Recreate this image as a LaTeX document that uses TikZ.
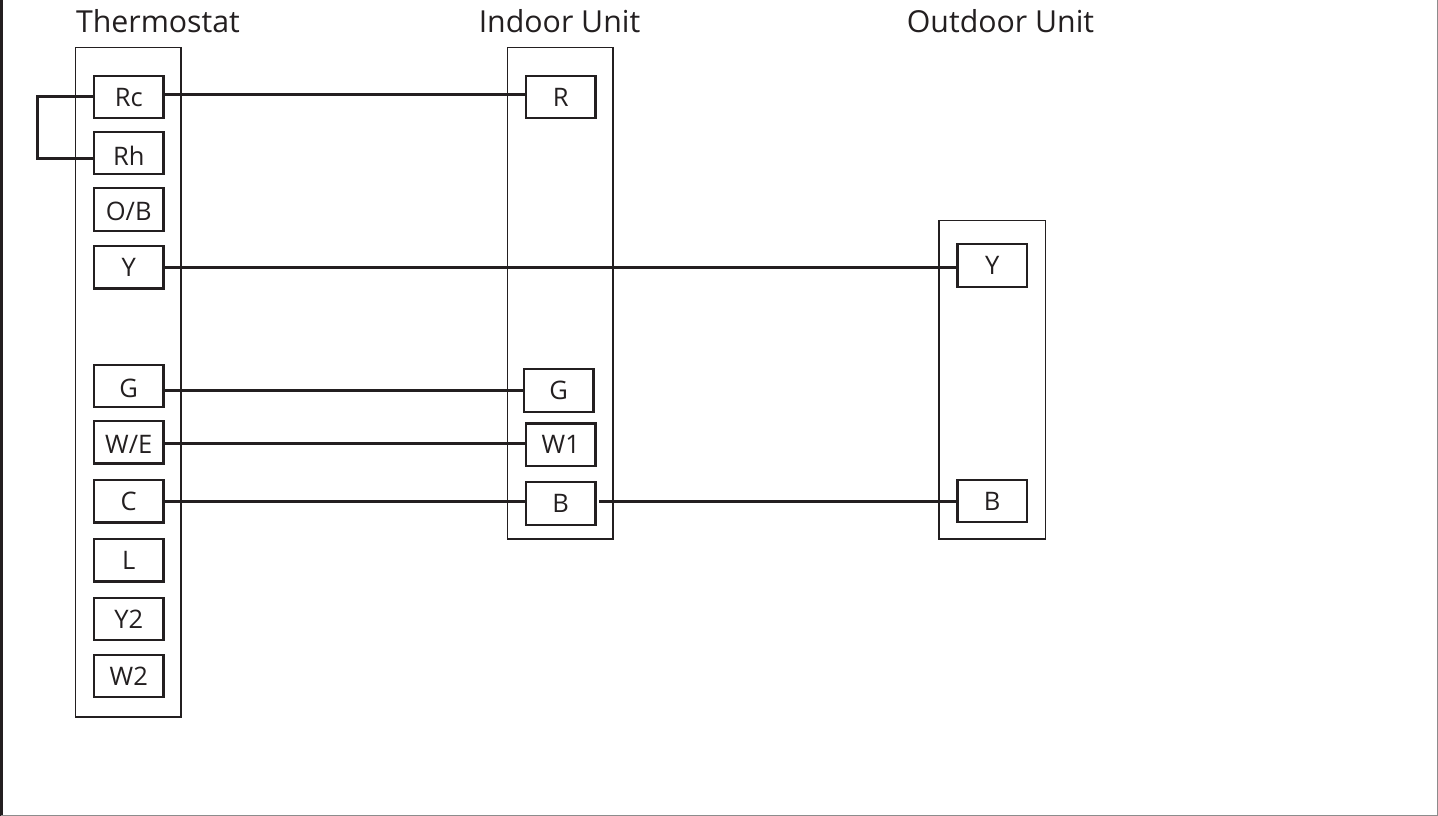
\documentclass[tikz,border=0pt]{standalone}
\usepackage{fontspec}
\setmainfont{Open Sans}
\definecolor{ink}{HTML}{231F20}
\tikzset{
  x=1pt,y=-1pt,
  term/.style={draw=ink,line width=2.4pt,minimum width=69.5pt,minimum height=42.5pt,inner sep=0pt,text=ink,font=\fontsize{25.5}{25.5}\selectfont,text height=18.2pt,text depth=0pt,fill=white},
  unit/.style={draw=ink,line width=1.6pt,inner sep=0pt},
  title/.style={text=ink,font=\fontsize{30.3}{30.3}\selectfont,inner sep=0pt,text height=21.6pt,text depth=0pt},
  wire/.style={draw=ink,line width=2.2pt},
}
\begin{document}
\begin{tikzpicture}
\useasboundingbox (0,0) rectangle (1438,816);
\fill[white] (0,0) rectangle (1438,816);
% page frame
\coordinate (fa) at (1.2,0); \coordinate (fb) at (1.2,815.5); \coordinate (fc) at (1437.4,815.5); \coordinate (fd) at (1437.4,0);
\draw[ink,line width=2.6pt] (fa) -- (fb);
\draw[black!45,line width=1.4pt] (fb) -- (fc) -- (fd);
% unit enclosures
\node[unit,minimum width=105.5pt,minimum height=669.5pt] (thermo) at (128.25,382.25) {};
\node[unit,minimum width=105.5pt,minimum height=491.5pt] (indoor) at (560.25,293.25) {};
\node[unit,minimum width=106.5pt,minimum height=318.5pt] (outdoor) at (992.25,379.75) {};
% titles
\node[title] (t1) at (158,21.8) {Thermostat};
\node[title] (t2) at (559.5,21.8) {Indoor Unit};
\node[title] (t3) at (1000.5,21.8) {Outdoor Unit};
% thermostat terminals
\node[term] (Rc) at (128.75,97) {Rc};
\node[term] (Rh) at (128.75,153) {\raisebox{-3pt}{Rh}};
\node[term] (OB) at (128.75,209.5) {\raisebox{-1.5pt}{O/B}};
\node[term] (TY) at (128.75,267.25) {Y};
\node[term] (TG) at (128.75,386) {\raisebox{-2pt}{G}};
\node[term] (WE) at (128.75,442.25) {\raisebox{-2pt}{W/E}};
\node[term] (TC) at (128.75,501.25) {C};
\node[term] (L) at (128.75,560.25) {L};
\node[term] (Y2) at (128.75,619) {Y2};
\node[term] (W2) at (128.75,676) {W2};
% indoor terminals
\node[term] (IR) at (560.75,97) {R};
\node[term] (IG) at (558.75,390.5) {G};
\node[term] (W1) at (560.75,444.7) {W1};
\node[term] (IB) at (560.75,503.5) {B};
% outdoor terminals
\node[term] (OY) at (992.25,265.5) {Y};
\node[term] (OB2) at (992.25,501) {B};
% jumper
\coordinate (jt) at (37.5,96.5);
\coordinate (jb) at (37.5,158.5);
\draw[wire] ([yshift=0.5pt]Rc.west) -- (jt) -- (jb) -- (jb -| Rh.west);
% wires
\draw[wire] ([yshift=2.5pt]Rc.east) -- ([yshift=2.5pt]IR.west);
\draw[wire] ([yshift=-0.25pt]TY.east) -- ([yshift=-0.25pt]TY.east -| OY.west);
\draw[wire] (IG.west -| TG.east) -- (IG.west);
\draw[wire] ([yshift=1.2pt]W1.east -| WE.east) -- ([yshift=1.2pt]W1.west);
\draw[wire] ([yshift=-0.25pt]TC.east) -- ([yshift=-0.25pt]TC.east -| IB.west);
\draw[wire] ([xshift=2.5pt,yshift=2pt]IB.east) -- ([xshift=2.5pt,yshift=-0.5pt]OB2.west);
\end{tikzpicture}
\end{document}
